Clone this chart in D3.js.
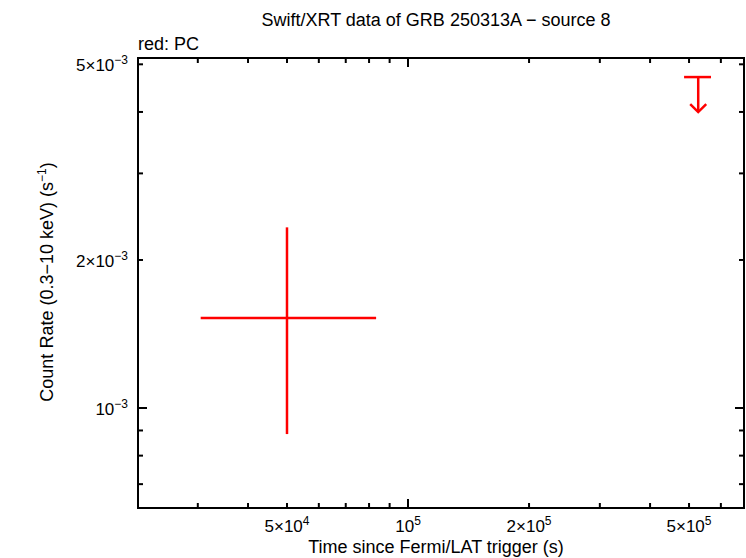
<!doctype html>
<html>
<head>
<meta charset="utf-8" />
<script src="https://cdn.jsdelivr.net/npm/d3@7"></script>
<style>body{margin:0;padding:0;background:#fff;} text{font-family:"Liberation Sans",Arial,sans-serif;}</style>
</head>
<body>
<script>
  // data
  var pointT    = [5.0e4];
  var pointTlo  = [3.05e4];
  var pointThi  = [8.33e4];
  var pointRate = [1.524e-3];
  var pointRlo  = [8.85e-4];
  var pointRhi  = [2.33e-3];
  var limitT    = [5.27e5];
  var limitTlo  = [4.86e5];
  var limitThi  = [5.67e5];
  var limitRate = [4.71e-3];
  var xTickVals = [5e4, 1e5, 2e5, 5e5];
  var xTickMant = ["5\u00d710", "10", "2\u00d710", "5\u00d710"];
  var xTickExp  = ["4", "5", "5", "5"];
  var yTickVals = [1e-3, 2e-3, 5e-3];
  var yTickMant = ["10", "2\u00d710", "5\u00d710"];
  var yTickExp  = ["\u22123", "\u22123", "\u22123"];

  var W = 746, H = 558;
  var margin = {top: 58, right: 2, bottom: 50, left: 138};
  var width = W - margin.left - margin.right, height = H - margin.top - margin.bottom;
  var svg = d3.select("body").append("svg").attr("width", W).attr("height", H);
  var g = svg.append("g").attr("transform", "translate(" + margin.left + "," + margin.top + ")");

  var x = d3.scaleLog().domain([2.13e4, 6.85e5]).range([0, width]);
  var y = d3.scaleLog().domain([6.26e-4, 5.15e-3]).range([height, 0]);

  // minor/major ticks, mirrored inward
  var xt = [], yt = [];
  [1e4, 1e5].forEach(function(d){ for (var m = 1; m < 10; m++) { var v = d*m; if (v >= x.domain()[0] && v <= x.domain()[1]) xt.push(v); } });
  [1e-4, 1e-3].forEach(function(d){ for (var m = 1; m < 10; m++) { var v = d*m; if (v >= y.domain()[0] && v <= y.domain()[1]) yt.push(v); } });
  function isMajor(v){ var l = Math.log10(v); return Math.abs(l - Math.round(l)) < 1e-6; }
  xt.forEach(function(v){
    var L = isMajor(v) ? 9 : 5, px = x(v);
    g.append("line").attr("x1", px).attr("x2", px).attr("y1", height).attr("y2", height - L).attr("stroke", "#000").attr("stroke-width", 2);
    g.append("line").attr("x1", px).attr("x2", px).attr("y1", 0).attr("y2", L).attr("stroke", "#000").attr("stroke-width", 2);
  });
  yt.forEach(function(v){
    var L = isMajor(v) ? 9 : 5, py = y(v);
    g.append("line").attr("x1", 0).attr("x2", L).attr("y1", py).attr("y2", py).attr("stroke", "#000").attr("stroke-width", 2);
    g.append("line").attr("x1", width).attr("x2", width - L).attr("y1", py).attr("y2", py).attr("stroke", "#000").attr("stroke-width", 2);
  });
  g.append("rect").attr("width", width).attr("height", height).attr("fill", "none").attr("stroke", "#000").attr("stroke-width", 2);

  // tick labels
  xTickVals.forEach(function(v, i){
    var t = g.append("text").attr("x", x(v)).attr("y", height + 24).attr("text-anchor", "middle").style("font-size", "17px");
    t.append("tspan").text(xTickMant[i]);
    t.append("tspan").attr("dy", -7).style("font-size", "12px").text(xTickExp[i]);
  });
  yTickVals.forEach(function(v, i){
    var t = g.append("text").attr("x", -10).attr("y", y(v) + 7).attr("text-anchor", "end").style("font-size", "17px");
    t.append("tspan").text(yTickMant[i]);
    t.append("tspan").attr("dy", -7).style("font-size", "12px").text(yTickExp[i]);
  });

  // titles
  svg.append("text").attr("x", 436).attr("y", 26).attr("text-anchor", "middle").style("font-size", "18px").text("Swift/XRT data of GRB 250313A \u2212 source 8");
  svg.append("text").attr("x", 138).attr("y", 50).style("font-size", "18px").text("red: PC");
  svg.append("text").attr("x", 436).attr("y", 553).attr("text-anchor", "middle").style("font-size", "18px").text("Time since Fermi/LAT trigger (s)");
  var yl = svg.append("text").attr("transform", "translate(53,282) rotate(-90)").attr("text-anchor", "middle").style("font-size", "18px");
  yl.append("tspan").text("Count Rate (0.3\u221210 keV) (s");
  yl.append("tspan").attr("dy", -7).style("font-size", "12px").text("\u22121");
  yl.append("tspan").attr("dy", 7).text(")");

  // data point with error bars
  var red = "#ff0000";
  pointT.forEach(function(t, i){
    g.append("line").attr("x1", x(pointTlo[i])).attr("x2", x(pointThi[i])).attr("y1", y(pointRate[i])).attr("y2", y(pointRate[i])).attr("stroke", red).attr("stroke-width", 2.5);
    g.append("line").attr("x1", x(t)).attr("x2", x(t)).attr("y1", y(pointRlo[i])).attr("y2", y(pointRhi[i])).attr("stroke", red).attr("stroke-width", 2.5);
  });
  // upper limit
  limitT.forEach(function(t, i){
    var px = x(t), py = y(limitRate[i]);
    g.append("line").attr("x1", x(limitTlo[i])).attr("x2", x(limitThi[i])).attr("y1", py).attr("y2", py).attr("stroke", red).attr("stroke-width", 2.5);
    g.append("line").attr("x1", px).attr("x2", px).attr("y1", py).attr("y2", py + 35).attr("stroke", red).attr("stroke-width", 2.5);
    g.append("path").attr("d", "M" + (px - 8) + "," + (py + 27) + "L" + px + "," + (py + 35) + "L" + (px + 8) + "," + (py + 27))
      .attr("fill", "none").attr("stroke", red).attr("stroke-width", 2.5);
  });
</script>
</body>
</html>
